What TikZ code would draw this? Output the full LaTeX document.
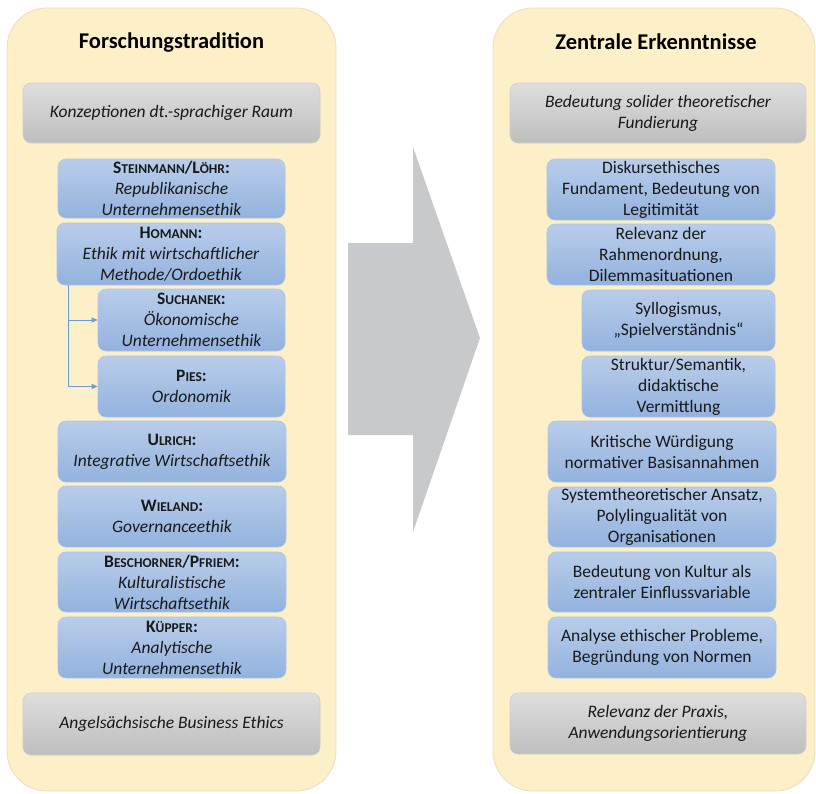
\documentclass[tikz,border=0pt]{standalone}
\usepackage{fontspec}
\setmainfont{Carlito}
\usetikzlibrary{calc,arrows.meta}

\definecolor{panelfill}{RGB}{253,240,201}
\definecolor{panelline}{RGB}{232,222,190}
\definecolor{bluetop}{RGB}{185,205,234}
\definecolor{bluebot}{RGB}{146,178,222}
\definecolor{blueline}{RGB}{170,196,230}
\definecolor{graytop}{RGB}{222,222,222}
\definecolor{graybot}{RGB}{190,190,190}
\definecolor{grayline}{RGB}{205,205,205}
\definecolor{arrowgray}{RGB}{200,201,202}
\definecolor{connblue}{RGB}{110,155,212}

% fake small caps for author names
\newcommand\authsc[2]{#1{\fontsize{13.5}{16}\selectfont #2}}

\tikzset{
  panel/.style={draw=panelline, line width=0.8pt, fill=panelfill, rounded corners=40pt},
  ptitle/.style={font=\fontsize{22.5}{26}\selectfont\bfseries, text=black},
  bluebox/.style={draw=blueline, line width=0.6pt, rounded corners=8pt,
    top color=bluetop, bottom color=bluebot, align=center, inner sep=0pt,
    font=\fontsize{17.5}{21}\selectfont, text=black!90},
  graybox/.style={draw=grayline, line width=0.6pt, rounded corners=8pt,
    top color=graytop, bottom color=graybot, align=center, inner sep=0pt,
    font=\fontsize{17.5}{21}\selectfont\itshape, text=black!90},
  conn/.style={draw=connblue, line width=0.7pt, -{Triangle[length=6pt,width=5pt]}},
}

\begin{document}
\begin{tikzpicture}[x=1pt,y=-1pt]
\useasboundingbox (0,0) rectangle (816,793);

% the two panels
\node[panel, minimum width=329pt, minimum height=783pt] (lpanel) at (171.5,399.5) {};
\node[panel, minimum width=322pt, minimum height=783pt] (rpanel) at (654,399.5) {};

% big transition arrow
\fill[arrowgray] (348,243) -- (413,243) -- (413,147) -- (480,338) -- (413,532) -- (413,435) -- (348,435) -- cycle;

% left column
\node[ptitle] (ltitle) at (171.5,42) {Forschungstradition};
\node[graybox, minimum width=297pt, minimum height=60pt] (ltop) at (171.5,113) {Konzeptionen dt.-sprachiger Raum};

\node[bluebox, minimum width=227pt, minimum height=59pt] (steinmann) at (171.5,188.5)
  {\bfseries\authsc{S}{TEINMANN}/\authsc{L}{ÖHR}:\\ \itshape Republikanische\\ \itshape Unternehmensethik};
\node[bluebox, minimum width=228pt, minimum height=62pt] (homann) at (171,254)
  {\bfseries\authsc{H}{OMANN}:\\ \itshape Ethik mit wirtschaftlicher\\ \itshape Methode/Ordoethik};
\node[bluebox, minimum width=187pt, minimum height=62pt] (suchanek) at (191.5,320)
  {\bfseries\authsc{S}{UCHANEK}:\\ \itshape Ökonomische\\ \itshape Unternehmensethik};
\node[bluebox, minimum width=187pt, minimum height=61pt] (pies) at (191.5,386.5)
  {\bfseries\authsc{P}{IES}:\\ \itshape Ordonomik};
\node[bluebox, minimum width=228pt, minimum height=61pt] (ulrich) at (172,451.5)
  {\bfseries\authsc{U}{LRICH}:\\ \itshape Integrative Wirtschaftsethik};
\node[bluebox, minimum width=228pt, minimum height=61pt] (wieland) at (172,516.5)
  {\bfseries\authsc{W}{IELAND}:\\ \itshape Governanceethik};
\node[bluebox, minimum width=228pt, minimum height=60pt] (beschorner) at (172,582)
  {\bfseries\authsc{B}{ESCHORNER}/\authsc{P}{FRIEM}:\\ \itshape Kulturalistische\\ \itshape Wirtschaftsethik};
\node[bluebox, minimum width=228pt, minimum height=61pt] (kuepper) at (172,647.5)
  {\bfseries\authsc{K}{ÜPPER}:\\ \itshape Analytische\\ \itshape Unternehmensethik};

\node[graybox, minimum width=297pt, minimum height=62pt] (lbot) at (171.5,724) {Angelsächsische Business Ethics};

% branches from Homann to its successors
\coordinate (hb) at ($(homann.south west)+(12,0)$);
\draw[conn] (hb) |- (suchanek.west);
\draw[conn] (hb) |- (pies.west);

% right column
\node[ptitle] (rtitle) at (656,42) {Zentrale Erkenntnisse};
\node[graybox, minimum width=296pt, minimum height=60pt] (rtop) at (658,113) {Bedeutung solider theoretischer\\ Fundierung};

\node[bluebox, minimum width=228pt, minimum height=61pt] (diskurs) at (661,189.5)
  {Diskursethisches\\ Fundament, Bedeutung von\\ Legitimität};
\node[bluebox, minimum width=228pt, minimum height=61pt] (rahmen) at (661,254.5)
  {Relevanz der\\ Rahmenordnung,\\ Dilemmasituationen};
\node[bluebox, minimum width=193pt, minimum height=61pt] (syllog) at (678.5,320.5)
  {Syllogismus,\\ „Spielverständnis“};
\node[bluebox, minimum width=193pt, minimum height=61pt] (struktur) at (678.5,386.5)
  {Struktur/Semantik,\\ didaktische\\ Vermittlung};
\node[bluebox, minimum width=228pt, minimum height=61pt] (kritik) at (662,451.5)
  {Kritische Würdigung\\ normativer Basisannahmen};
\node[bluebox, minimum width=228pt, minimum height=60pt] (system) at (662,517)
  {Systemtheoretischer Ansatz,\\ Polylingualität von\\ Organisationen};
\node[bluebox, minimum width=228pt, minimum height=60pt] (kultur) at (662,582)
  {Bedeutung von Kultur als\\ zentraler Einflussvariable};
\node[bluebox, minimum width=228pt, minimum height=61pt] (analyse) at (662,647.5)
  {Analyse ethischer Probleme,\\ Begründung von Normen};

\node[graybox, minimum width=296pt, minimum height=61pt] (rbot) at (658,723.5) {Relevanz der Praxis,\\ Anwendungsorientierung};
\end{tikzpicture}
\end{document}
